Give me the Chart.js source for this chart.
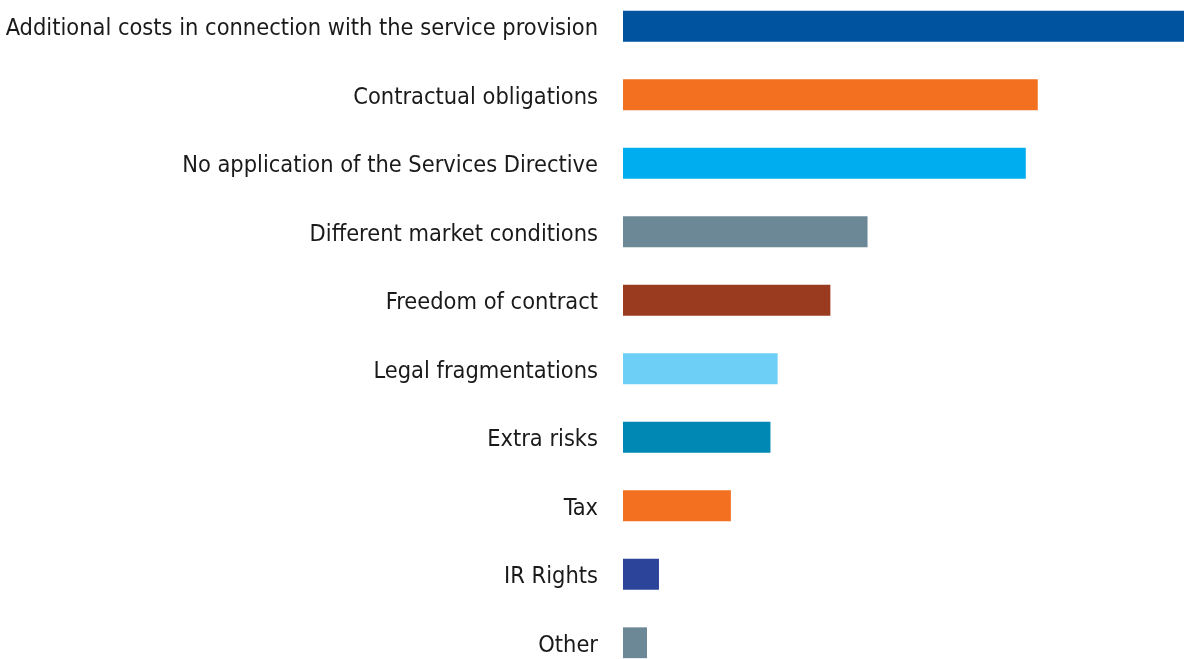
<!DOCTYPE html>
<html>
<head>
<meta charset="utf-8">
<script src="https://cdn.jsdelivr.net/npm/chart.js@4/dist/chart.umd.min.js"></script>
<style>
  html, body { margin: 0; padding: 0; background: #fff; overflow: hidden; }
  #wrap { position: absolute; left: 0; top: -8px; width: 1184px; height: 685px; }
</style>
</head>
<body>
<div id="wrap"><canvas id="barChart"></canvas></div>
<script>
var categories = [
    "Additional costs in connection with the service provision",
    "Contractual obligations",
    "No application of the Services Directive",
    "Different market conditions",
    "Freedom of contract",
    "Legal fragmentations",
    "Extra risks",
    "Tax",
    "IR Rights",
    "Other"
];
var values = [46.8, 34.6, 33.6, 20.4, 17.3, 12.9, 12.3, 9.0, 3.0, 2.0];
var barColors = [
    "#00549F",
    "#F37021",
    "#00AEEF",
    "#6C8896",
    "#9A3B20",
    "#6ECFF6",
    "#0088B4",
    "#F37021",
    "#2C449A",
    "#6C8896"
];

var ctx = document.getElementById("barChart");

var barChart = new Chart(ctx, {
    type: 'bar',
    data: {
        labels: categories,
        datasets: [{
            data: values,
            backgroundColor: barColors,
            borderWidth: 0,
            barPercentage: 0.45,
            categoryPercentage: 1
        }]
    },
    options: {
        indexAxis: 'y',
        responsive: true,
        maintainAspectRatio: false,
        animation: false,
        layout: { padding: 0 },
        plugins: {
            legend: { display: false },
            tooltip: { enabled: false }
        },
        scales: {
            x: {
                display: false,
                min: 0,
                max: values[0]
            },
            y: {
                grid: { display: false },
                border: { display: false },
                ticks: {
                    color: '#1a1a1a',
                    padding: 17,
                    labelOffset: 3,
                    font: { family: "'DejaVu Sans Condensed', 'Liberation Sans', sans-serif", size: 23.4 }
                },
                afterFit: function (scale) {
                    scale.width = 623; // fixed label column
                    scale.paddingTop = 0;
                    scale.paddingBottom = 0;
                }
            }
        }
    }
});
</script>
</body>
</html>
